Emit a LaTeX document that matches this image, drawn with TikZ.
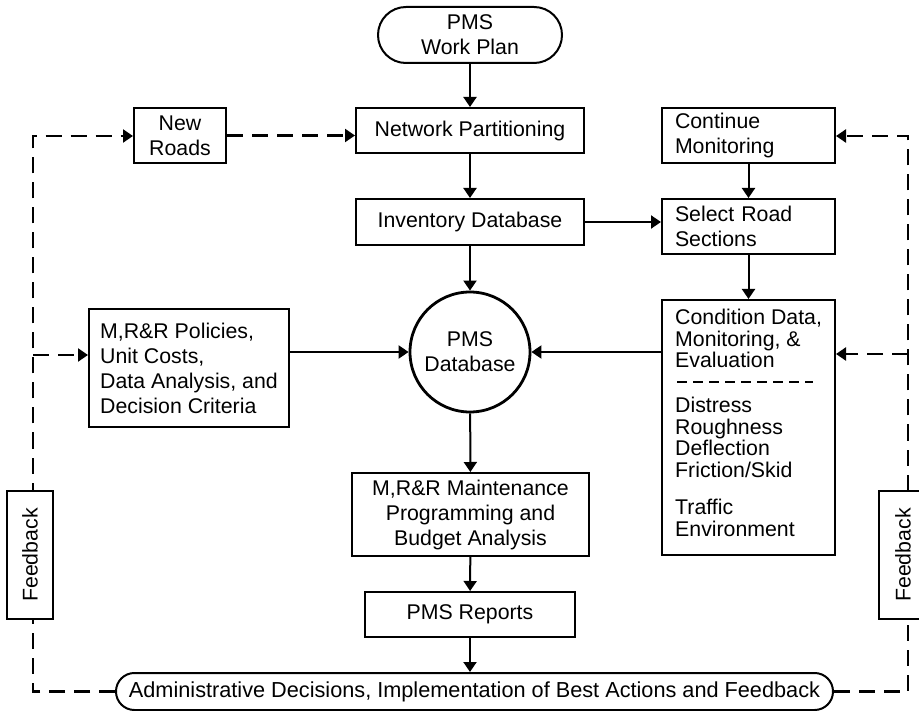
\documentclass[tikz,border=0pt]{standalone}
\usepackage{fontspec}
\setmainfont{Liberation Sans}
\usetikzlibrary{arrows.meta}
\begin{document}
\begin{tikzpicture}[x=1pt,y=-1pt,
  box/.style={draw, line width=2pt, fill=white, inner sep=0pt, align=center,
    font=\fontsize{21.3}{25}\selectfont},
  lbox/.style={box, align=left, inner xsep=13pt},
  arr/.style={line width=2pt, -{Triangle[length=10pt,width=13pt]}},
  dline/.style={line width=2.2pt, dash pattern=on 16pt off 9pt},
  darr/.style={dline, -{Triangle[length=10pt,width=13pt]}},
  txt/.style={inner sep=0pt, align=left, anchor=north west,
    font=\fontsize{21.3}{21.5}\selectfont}
]
\useasboundingbox (0,0) rectangle (919,711);

% main column
\node[box, minimum width=184pt, minimum height=56pt, rounded corners=27.9pt] (plan) at (470,35) {PMS\\Work Plan};
\node[box, minimum width=228pt, minimum height=45pt] (np) at (470,130.5) {Network Partitioning};
\node[box, minimum width=228pt, minimum height=46pt] (inv) at (470,222) {Inventory Database};
\node[box, circle, line width=2.8pt, minimum size=120pt] (db) at (470,352) {PMS\\Database};
\node[box, minimum width=237pt, minimum height=83pt] (mrr) at (470.5,514.5) {M,R\&R Maintenance\\Programming and\\Budget Analysis};
\node[box, minimum width=210pt, minimum height=45pt] (rep) at (470,614.5) {PMS Reports};
\node[box, minimum width=717pt, minimum height=37pt, rounded corners=18.4pt, font=\fontsize{21.7}{25}\selectfont] (adm) at (474.5,691.5) {Administrative Decisions, Implementation of Best Actions and Feedback};

% left side
\node[box, minimum width=92pt, minimum height=55pt] (nr) at (180,135.5) {New\\Roads};
\node[box, align=left, minimum width=200pt, minimum height=118pt] (pol) at (189,368) {M,R\&R Policies,\\Unit Costs,\\Data Analysis, and\\Decision Criteria};

% right side
\node[lbox, text width=147pt, minimum height=55pt] (cm) at (748.5,135.5) {Continue\\Monitoring};
\node[lbox, text width=147pt, minimum height=55pt] (sel) at (748.5,226.5) {Select Road\\Sections};
\node[box, minimum width=173pt, minimum height=255pt] (cond) at (748.5,427.5) {};
\node[txt] (c1) at (675,309) {Condition Data,\\Monitoring, \&\\Evaluation};
\node[txt] (c2) at (675,397) {Distress\\Roughness\\Deflection\\Friction/Skid};
\node[txt] (c3) at (675,499) {Traffic\\Environment};
\draw[line width=2pt, dash pattern=on 10pt off 6pt] (677,382) -- (813,382);

% solid connectors
\draw[arr] (plan) -- (np);
\draw[arr] (np) -- (inv);
\draw[arr] (inv) -- (db);
\draw[arr] (inv.east) -- (inv.east -| sel.west);
\draw[arr] (cm) -- (sel);
\draw[arr] (sel) -- (cond);
\draw[arr] (pol.east |- db.west) -- (db.west);
\draw[arr] (cond.west |- db.east) -- (db.east);
\draw[arr] (db) -- (mrr);
\draw[arr] (mrr) -- (rep);
\draw[arr] (rep.south) -- (rep.south |- adm.north);

% dashed feedback loops
\coordinate (ltop) at (33,136);
\coordinate (lmid) at (33,355);
\coordinate (rtop) at (908,136);
\coordinate (rmid) at (908,354);
\draw[darr] (adm.west) -| (ltop) -- (ltop -| nr.west);
\draw[darr] (lmid) -- (lmid -| pol.west);
\draw[darr] (nr.east) -- (nr.east -| np.west);
\draw[darr] (adm.east) -| (rtop) -- (rtop -| cm.east);
\draw[darr] (rmid) -- (rmid -| cond.east);

\node[box, rotate=90, minimum width=128pt, minimum height=46pt] (fbl) at (30,555) {Feedback};
\node[box, rotate=90, minimum width=128pt, minimum height=48pt] (fbr) at (903,555) {Feedback};
\end{tikzpicture}
\end{document}
